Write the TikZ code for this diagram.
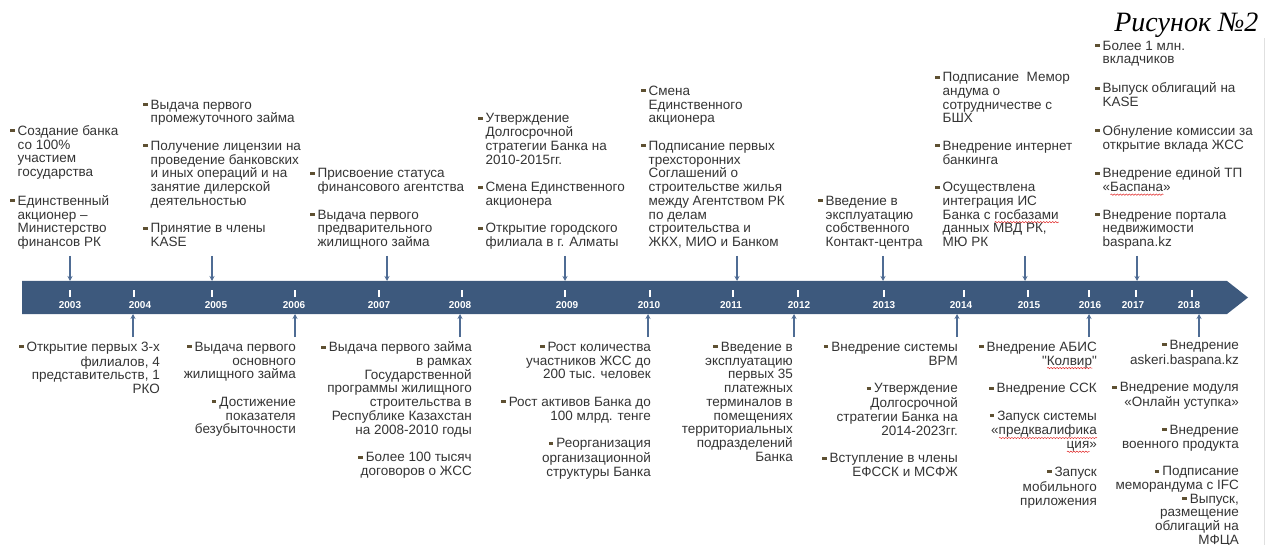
\documentclass[tikz,border=0pt]{standalone}
\usepackage{fontspec}
\newfontfamily\bodyfont{Liberation Sans}
\newfontfamily\capfont{Liberation Serif}
\usepackage{tikz}
\usetikzlibrary{arrows.meta, decorations.pathmorphing}

\definecolor{bandc}{RGB}{61,89,125}
\definecolor{arrc}{RGB}{79,108,148}
\definecolor{txtc}{RGB}{52,52,52}
\definecolor{bulc}{RGB}{94,80,50}
\definecolor{wavec}{RGB}{225,40,40}

\newlength{\wavelen}
\newcommand{\bul}{\textcolor{bulc}{\rule[3pt]{4.5pt}{3pt}}\hspace{3pt}}
\newcommand{\redwave}[1]{\leavevmode\settowidth{\wavelen}{#1}%
  \rlap{\tikz[baseline=0pt]\draw[wavec, line width=0.5pt, decorate,
    decoration={snake, amplitude=0.7pt, segment length=3pt}]
    (0pt,-3pt) -- (\wavelen,-3pt);}#1}
\newcommand{\gap}{\vspace{13.75pt}}
% above the band: lines hang after the bullet
\newcommand{\upitem}[1]{{\leftskip=7.5pt\noindent\hspace*{-7.5pt}\bul#1\strut\par}}
% below the band: lines flush right
\newcommand{\dnitem}[1]{{\noindent\strut\bul#1\strut\par}}

\begin{document}
\begin{tikzpicture}[x=1pt, y=-1pt,
    upnote/.style={anchor=south west, text width=190pt, align=flush left,
        inner sep=0pt, text=txtc, font=\bodyfont\fontsize{13.5}{13.75}\selectfont},
    dnnote/.style={anchor=north east, text width=190pt, align=flush right,
        inner sep=0pt, text=txtc, font=\bodyfont\fontsize{13.5}{13.75}\selectfont},
    yearlbl/.style={text=white, inner sep=0pt,
        font=\bodyfont\bfseries\fontsize{10}{12}\selectfont},
    yeartick/.style={draw=white, line width=1.6pt},
    evtarrow/.style={draw=arrc, line width=1.1pt, -{Stealth[length=5pt,width=5pt]}},
]
\useasboundingbox (0,0) rectangle (1266,545);

% title
\node[anchor=base east, font=\capfont\itshape\fontsize{28}{30}\selectfont]
    (title) at (1262,32) {Рисунок №2};
\draw[black!12, line width=0.8pt] (1264.5,38) -- (1264.5,545);

% the band
\fill[bandc] (22,281) -- (1227,281) -- (1248,297.5) -- (1227,314) -- (22,314) -- cycle;
\coordinate (bandtop) at (0,281);
\coordinate (bandbot) at (0,314);

\foreach \yr/\tx/\lx in {2003/70/70, 2004/134/140, 2005/212/216, 2006/295/294,
    2007/379/379, 2008/462/460, 2009/565/567, 2010/650/649, 2011/733/731,
    2012/798/799, 2013/884/884, 2014/964/961, 2015/1028/1029, 2016/1089/1090,
    2017/1136/1133, 2018/1192/1189} {
  \draw[yeartick] (\tx,290.5) -- (\tx,297);
  \node[yearlbl] (y\yr) at (\lx,305) {\yr};
}

% events above the band
\node[upnote] (e2003) at (10,251) {%
\upitem{Создание банка\\со 100\%\\участием\\государства}\gap
\upitem{Единственный\\акционер –\\Министерство\\финансов РК}};
\node[upnote] (e2005) at (143,251) {%
\upitem{Выдача первого\\промежуточного займа}\gap
\upitem{Получение лицензии на\\проведение банковских\\и иных операций и на\\занятие дилерской\\деятельностью}\gap
\upitem{Принятие в члены\\KASE}};
\node[upnote] (e2007) at (310,251) {%
\upitem{Присвоение статуса\\финансового агентства}\gap
\upitem{Выдача первого\\предварительного\\жилищного займа}};
\node[upnote] (e2009) at (478,251) {%
\upitem{Утверждение\\Долгосрочной\\стратегии Банка на\\2010-2015гг.}\gap
\upitem{Смена Единственного\\акционера}\gap
\upitem{Открытие городского\\филиала в г. Алматы}};
\node[upnote] (e2011) at (641,251) {%
\upitem{Смена\\Единственного\\акционера}\gap
\upitem{Подписание первых\\трехсторонних\\Соглашений о\\строительстве жилья\\между Агентством РК\\по делам\\строительства и\\ЖКХ, МИО и Банком}};
\node[upnote] (e2013) at (818,251) {%
\upitem{Введение в\\эксплуатацию\\собственного\\Контакт-центра}};
\node[upnote] (e2015) at (935,251) {%
\upitem{Подписание\ \ Мемор\\андума о\\сотрудничестве с\\БШХ}\gap
\upitem{Внедрение интернет\\банкинга}\gap
\upitem{Осуществлена\\интеграция ИС\\Банка с \redwave{госбазами}\\данных МВД РК,\\МЮ РК}};
\node[upnote] (e2017) at (1095,251) {%
\upitem{Более 1 млн.\\вкладчиков}\gap
\upitem{Выпуск облигаций на\\KASE}\gap
\upitem{Обнуление комиссии за\\открытие вклада ЖСС}\gap
\upitem{Внедрение единой ТП\\«\redwave{Баспана}»}\gap
\upitem{Внедрение портала\\недвижимости\\baspana.kz}};

% events below the band
\node[dnnote] (e2004) at (160,341.5) {%
\dnitem{Открытие первых 3-х\\филиалов, 4\\представительств, 1\\РКО}};
\node[dnnote] (e2006) at (296,341.5) {%
\dnitem{Выдача первого\\основного\\жилищного займа}\gap
\dnitem{Достижение\\показателя\\безубыточности}};
\node[dnnote] (e2008) at (472,341.5) {%
\dnitem{Выдача первого займа\\в рамках\\Государственной\\программы жилищного\\строительства в\\Республике Казахстан\\на 2008-2010 годы}\gap
\dnitem{Более 100 тысяч\\договоров о ЖСС}};
\node[dnnote] (e2010) at (651,341.5) {%
\dnitem{Рост количества\\участников ЖСС до\\200 тыс. человек}\gap
\dnitem{Рост активов Банка до\\100 млрд. тенге}\gap
\dnitem{Реорганизация\\организационной\\структуры Банка}};
\node[dnnote] (e2012) at (793,341.5) {%
\dnitem{Введение в\\эксплуатацию\\первых 35\\платежных\\терминалов в\\помещениях\\территориальных\\подразделений\\Банка}};
\node[dnnote] (e2014) at (958,341.5) {%
\dnitem{Внедрение системы\\ВРМ}\gap
\dnitem{Утверждение\\Долгосрочной\\стратегии Банка на\\2014-2023гг.}\gap
\dnitem{Вступление в члены\\ЕФССК и МСФЖ}};
\node[dnnote] (e2016) at (1097,341.5) {%
\dnitem{Внедрение АБИС\\"\redwave{Колвир}"}\gap
\dnitem{Внедрение ССК}\gap
\dnitem{Запуск системы\\«\redwave{предквалифика}\\\redwave{ция}»}\gap
\dnitem{Запуск\\мобильного\\приложения}};
\node[dnnote] (e2018) at (1239,339.5) {%
\dnitem{Внедрение\\askeri.baspana.kz}\gap
\dnitem{Внедрение модуля\\«Онлайн уступка»}\gap
\dnitem{Внедрение\\военного продукта}\gap
\dnitem{Подписание\\меморандума с IFC}
\dnitem{Выпуск,\\размещение\\облигаций на\\МФЦА}};

% arrows into the band
\foreach \yr/\xx in {2003/70, 2005/212, 2007/387, 2009/565, 2011/737,
    2013/883, 2015/1025, 2017/1137} {
  \coordinate (up\yr) at (\xx,256);
  \draw[evtarrow] (up\yr) -- (up\yr |- bandtop);
}
\foreach \yr/\xx in {2004/133, 2006/295, 2008/460, 2010/648, 2012/794,
    2014/957, 2016/1089, 2018/1199} {
  \coordinate (dn\yr) at (\xx,337);
  \draw[evtarrow] (dn\yr) -- (dn\yr |- bandbot);
}
\end{tikzpicture}
\end{document}
